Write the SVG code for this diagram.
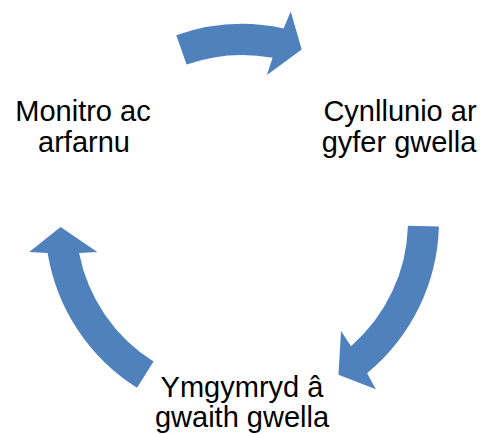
<svg xmlns="http://www.w3.org/2000/svg" width="480" height="434" viewBox="0 0 480 434">
<style>
.arr{fill:#4F81BD;stroke:none}
.lbl{font-family:"Liberation Sans",Arial,sans-serif;font-size:29px;fill:#000;text-anchor:middle}
</style>
<rect width="480" height="434" fill="#fff"/>
<g id="connectors">
<path class="arr" d="M176.24,35.30 A197,197 0 0,1 283.60,28.44 L290.73,11.59 L301.69,49.59 L266.94,75.12 L272.56,57.84 A166,166 0 0,0 186.59,64.52 Z"/>
<path class="arr" d="M438.92,226.50 A197,197 0 0,1 367.13,373.15 L375.84,389.26 L338.45,374.75 L341.03,330.98 L351.03,346.17 A166,166 0 0,0 407.94,225.63 Z"/>
<path class="arr" d="M137.02,387.70 A197,197 0 0,1 47.60,252.90 L29.25,252.04 L60.60,227.02 L97.29,252.02 L79.09,252.90 A166,166 0 0,0 153.54,361.47 Z"/>
</g>
<g id="node-monitro">
<text class="lbl" x="83" y="121">Monitro ac</text>
<text class="lbl" x="84" y="152">arfarnu</text>
</g>
<g id="node-cynllunio">
<text class="lbl" x="400" y="121">Cynllunio ar</text>
<text class="lbl" x="399" y="152">gyfer gwella</text>
</g>
<g id="node-ymgymryd">
<text class="lbl" x="242" y="397">Ymgymryd â</text>
<text class="lbl" x="242" y="427">gwaith gwella</text>
</g>
</svg>
